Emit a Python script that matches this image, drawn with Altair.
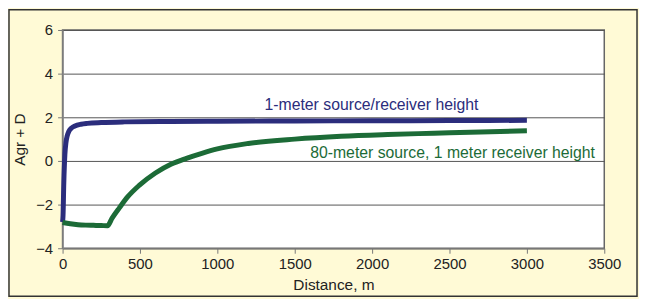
import altair as alt
import pandas as pd

# 1-meter source/receiver height
blue_d = [0, 3, 8, 15, 22, 30, 40, 60, 80, 120, 160, 250, 400, 700, 1000, 1500, 2000, 2500, 3000]
blue_v = [-2.8, -2.5, -1.0, 0.3, 0.85, 1.15, 1.35, 1.52, 1.6, 1.68, 1.72, 1.76, 1.79, 1.81, 1.82, 1.83, 1.84, 1.85, 1.86]

# 80-meter source, 1 meter receiver height
green_d = [0, 50, 100, 150, 200, 250, 290, 320, 367, 420, 495, 600, 700, 800, 900, 1000, 1200, 1500, 1800, 2100, 2400, 2700, 3000]
green_v = [-2.82, -2.88, -2.92, -2.94, -2.95, -2.96, -2.97, -2.62, -2.15, -1.65, -1.12, -0.55, -0.15, 0.12, 0.35, 0.55, 0.8, 1.0, 1.13, 1.21, 1.27, 1.33, 1.38]

x_ticks = [0, 500, 1000, 1500, 2000, 2500, 3000, 3500]
y_ticks = [-4, -2, 0, 2, 4, 6]

labels = ["1-meter source/receiver height", "80-meter source, 1 meter receiver height"]
label_x = [1305, 1600]
label_y = [2.54, 0.34]

BLUE = "#2B2D7C"
GREEN = "#1C6B37"
W, H = 546, 220
FONT = "Liberation Sans"

df = pd.concat([
    pd.DataFrame({"d": blue_d, "v": blue_v, "s": "blue"}),
    pd.DataFrame({"d": green_d, "v": green_v, "s": "green"}),
])

xs = alt.Scale(domain=[0, 3500], nice=False)
ys = alt.Scale(domain=[-4, 6], nice=False)

frame = alt.Chart(pd.DataFrame({"a": [0]})).mark_rect(
    fillOpacity=0, stroke="#333333", strokeWidth=1.5
).encode(
    x=alt.value(-54), x2=alt.value(579), y=alt.value(-20.5), y2=alt.value(268.5)
)

lines = alt.Chart(df).mark_line(strokeWidth=5, interpolate="monotone", strokeCap="butt").encode(
    x=alt.X("d:Q", scale=xs, axis=alt.Axis(
        values=x_ticks, format="d", title="Distance, m", grid=False, labelFontSize=15,
        titleFontSize=15.5, titleFontWeight="normal", tickSize=5, labelPadding=3,
        titlePadding=7, labelColor="#222222", titleColor="#222222",
        domainColor="#777777", domainWidth=1.5, tickColor="#777777", labelFlush=False)),
    y=alt.Y("v:Q", scale=ys, axis=alt.Axis(
        values=y_ticks, title="Agr + D", grid=True, gridColor="#555555", gridWidth=1,
        labelFontSize=15, titleFontSize=15.5, titleFontWeight="normal", tickSize=5,
        labelPadding=5, titlePadding=8, labelColor="#222222", titleColor="#222222",
        domainColor="#888888", domainWidth=1.5, tickColor="#777777",
        labelExpr="replace(datum.label, '-', '\u2212')")),
    color=alt.Color("s:N", scale=alt.Scale(domain=["blue", "green"], range=[BLUE, GREEN]), legend=None),
)

lab_df = pd.DataFrame({"t": labels, "x": label_x, "y": label_y, "s": ["blue", "green"]})
texts = alt.Chart(lab_df).mark_text(align="left", baseline="middle", fontSize=15.9, font=FONT).encode(
    x=alt.X("x:Q", scale=xs),
    y=alt.Y("y:Q", scale=ys),
    text="t:N",
    color=alt.Color("s:N", scale=alt.Scale(domain=["blue", "green"], range=["#3B3F96", "#2E7B47"]), legend=None),
)

chart = alt.layer(frame, lines, texts).properties(
    width=W, height=H,
    autosize=alt.AutoSizeParams(type="none"),
    padding={"left": 55, "top": 21, "right": 35, "bottom": 50},
    background="#FFFAD6",
).configure_view(
    fill="white", stroke="#666666", strokeWidth=1.5
).configure_axis(
    labelFont=FONT, titleFont=FONT
)

chart.save("out.html", embed_options={"renderer": "svg", "actions": False})
